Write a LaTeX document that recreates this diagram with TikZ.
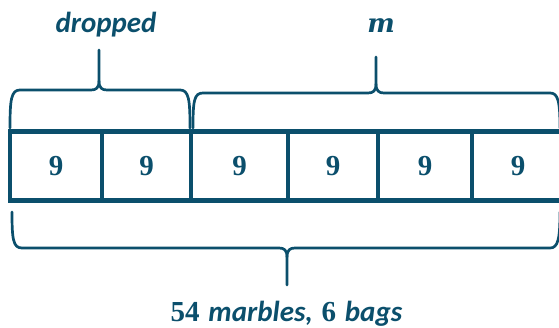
\documentclass[tikz,border=0pt]{standalone}
\usepackage{fontspec}
\newfontfamily\carl{Carlito}
\newfontfamily\lserif{Liberation Serif}
\newfontfamily\dvserif{DejaVu Serif}
\definecolor{tape}{HTML}{0B4F6C}
\begin{document}
\begin{tikzpicture}[x=1pt,y=-1pt,
  cell/.style={draw=tape,line width=4.5pt,minimum height=69pt,inner sep=0pt,
    text=tape,font=\lserif\fontsize{29}{30}\selectfont\bfseries},
  brace/.style={draw=tape,line width=2.7pt,line cap=round,line join=round},
  lbl/.style={text=tape,anchor=base,inner sep=0pt,font=\fontsize{29}{30}\selectfont}]
\useasboundingbox (0,0) rectangle (559,328);
% cells
\node[cell,minimum width=92pt] (b1) at (56,166) {9};
\node[cell,minimum width=89pt] (b2) at (146.5,166) {9};
\node[cell,minimum width=97pt] (b3) at (239.5,166) {9};
\node[cell,minimum width=90pt] (b4) at (333,166) {9};
\node[cell,minimum width=94pt] (b5) at (425,166) {9};
\node[cell,minimum width=92pt] (b6) at (518,166) {9};
% dropped brace
\draw[brace] (10,128) .. controls (10,100) and (11,90) .. (20,90) -- (91,90)
  .. controls (96,90) and (99,88) .. (99,81) -- (99,50);
\draw[brace] (99,81) .. controls (99,88) and (102,90) .. (107,90) -- (180,90)
  .. controls (189,90) and (190,100) .. (190,128);
% m brace
\draw[brace] (193,128) .. controls (193,101) and (194,93) .. (203,93) -- (368,93)
  .. controls (373,93) and (376,91) .. (376,84) -- (376,57);
\draw[brace] (376,84) .. controls (376,91) and (379,93) .. (384,93) -- (550,93)
  .. controls (558,93) and (560,101) .. (560,128);
% bottom brace
\draw[brace] (12,212) .. controls (12,239) and (13,248) .. (22,248) -- (279,248)
  .. controls (284,248) and (287,250) .. (287,257) -- (287,285);
\draw[brace] (287,257) .. controls (287,250) and (290,248) .. (295,248) -- (550,248)
  .. controls (558,248) and (560,239) .. (560,212);
% labels
\node[lbl] (ldrop) at (106,33) {\carl\bfseries\itshape dropped};
\node[lbl] (lm) at (381,33) {\dvserif\fontsize{26}{28}\selectfont\bfseries\itshape m};
\node[lbl] (ltot) at (286.5,321) {{\lserif\bfseries 54} {\carl\bfseries\itshape marbles,} {\lserif\bfseries 6} {\carl\bfseries\itshape bags}};
\end{tikzpicture}
\end{document}
